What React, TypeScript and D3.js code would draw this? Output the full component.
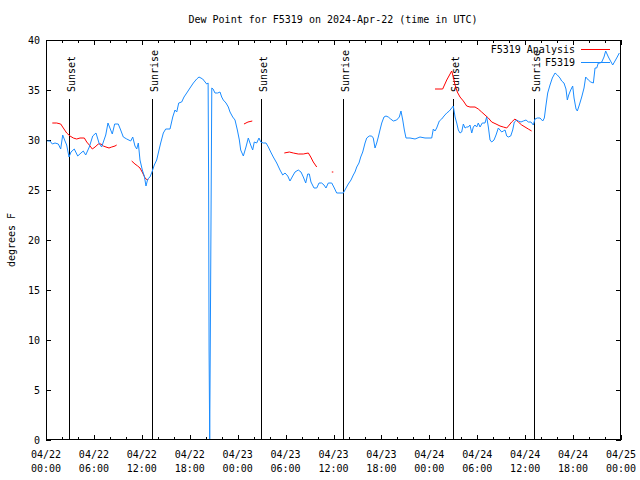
import React from "react";
import * as d3 from "d3";

const W = 640;
const H = 480;

const titleText = "Dew Point for F5319 on 2024-Apr-22 (time in UTC)";
const yLabel = "degrees F";

const xTickDates = ["04/22", "04/22", "04/22", "04/22", "04/23", "04/23", "04/23", "04/23", "04/24", "04/24", "04/24", "04/24", "04/25"];
const xTickTimes = ["00:00", "06:00", "12:00", "18:00", "00:00", "06:00", "12:00", "18:00", "00:00", "06:00", "12:00", "18:00", "00:00"];
const yTicks = [0, 5, 10, 15, 20, 25, 30, 35, 40];

const sunLabels = ["Sunset", "Sunrise", "Sunset", "Sunrise", "Sunset", "Sunrise"];
const sunHours = [2.92, 13.22, 26.95, 37.25, 50.98, 61.1];

// F5319 observations: hours since 04/22 00:00 UTC, dew point (F)
const obsHours = [
  0.16, 0.5, 0.79, 1.13, 1.54, 1.84, 2.09, 2.38, 2.59, 2.88, 3.13, 3.54, 3.97, 4.38, 4.67, 4.97, 5.42, 5.85,
  6.26, 6.64, 6.97, 7.18, 7.48, 7.76, 8.1, 8.3, 8.6, 9.05, 9.35, 9.68, 10.11, 10.61, 10.86, 11.14, 11.36, 11.56,
  11.77, 12.06, 12.31, 12.52, 12.74, 13.02, 13.27, 13.56, 13.86, 14.15, 14.36, 14.69, 14.99, 15.53, 15.87, 16.15,
  16.37, 16.62, 16.99, 17.28, 17.62, 18.03, 18.45, 18.87, 19.16, 19.62, 20.12, 20.3, 20.36, 20.42, 20.5, 20.76,
  20.92, 21.16, 21.5, 21.79, 22.0, 22.2, 22.54, 22.83, 23.04, 23.38, 23.67, 23.96, 24.21, 24.38, 24.71, 25.04,
  25.33, 25.63, 25.88, 26.08, 26.38, 26.67, 26.89, 27.21, 27.55, 27.84, 28.14, 28.46, 28.89, 29.3, 29.64, 29.93,
  30.27, 30.55, 30.89, 31.18, 31.59, 31.93, 32.22, 32.52, 32.77, 32.97, 33.18, 33.56, 33.9, 34.19, 34.52, 34.81,
  35.06, 35.35, 35.78, 36.1, 36.4, 36.82, 37.23, 37.57, 37.85, 38.19, 38.48, 38.69, 38.91, 39.19, 39.41, 39.66,
  39.95, 40.16, 40.48, 40.78, 40.98, 41.2, 41.41, 41.61, 41.82, 42.04, 42.32, 42.57, 42.86, 43.16, 43.49, 43.91,
  44.24, 44.45, 44.67, 44.87, 45.08, 45.58, 46.21, 46.83, 47.46, 48.3, 48.5, 48.71, 48.92, 49.25, 49.55, 49.84,
  50.18, 50.5, 50.8, 51.0, 51.22, 51.43, 51.63, 51.84, 52.05, 52.26, 52.47, 52.68, 52.88, 53.09, 53.31, 53.51,
  53.72, 53.93, 54.13, 54.35, 54.63, 54.97, 55.18, 55.39, 55.6, 55.81, 56.1, 56.35, 56.64, 56.85, 57.06, 57.26,
  57.48, 57.69, 57.89, 58.19, 58.44, 58.64, 58.94, 59.14, 59.48, 59.77, 60.11, 60.39, 60.73, 61.02, 61.23, 61.52,
  61.86, 62.2, 62.4, 62.61, 62.82, 63.11, 63.4, 63.74, 64.03, 64.36, 64.57, 64.86, 65.11, 65.28, 65.45, 65.7,
  65.95, 66.12, 66.37, 66.53, 66.78, 67.08, 67.37, 67.58, 67.91, 68.21, 68.54, 68.75, 68.96, 69.16, 69.37, 69.59,
  69.87, 70.08, 70.42, 70.96, 71.46, 71.79,
];
const obsValues = [
  29.9, 29.9, 29.6, 29.7, 29.6, 29.1, 30.5, 29.9, 29.5, 28.3, 28.8, 29.1, 28.4, 28.7, 28.9, 28.5, 29.3, 30.4,
  30.7, 29.7, 29.3, 29.8, 30.5, 31.7, 31.0, 30.6, 31.6, 31.6, 31.0, 30.3, 30.1, 29.9, 30.3, 29.4, 29.1, 29.7,
  28.0, 27.0, 26.4, 25.4, 26.1, 26.3, 26.8, 27.5, 28.0, 29.0, 29.7, 30.7, 31.1, 31.1, 32.3, 33.0,
  32.8, 33.7, 33.8, 34.3, 34.7, 35.2, 35.7, 36.1, 36.3, 36.1, 35.6, 35.7, 26.0, 9.0, 0.0, 35.2,
  35.1, 34.7, 34.7, 34.8, 34.3, 34.0, 33.7, 33.3, 32.8, 32.3, 32.0, 31.0, 30.0, 29.0, 28.4, 29.3,
  30.2, 29.5, 29.0, 29.8, 29.7, 30.2, 29.8, 29.7, 29.7, 29.3, 28.8, 28.3, 27.7, 27.0, 26.5, 26.7,
  26.4, 25.9, 26.4, 26.8, 27.0, 26.8, 26.3, 25.7, 26.6, 26.6, 25.8, 25.2, 25.2, 25.7, 25.7, 25.5,
  25.2, 25.7, 25.7, 25.2, 24.7, 24.7, 24.7, 25.2, 25.6, 26.0, 26.5, 26.8, 27.3, 27.7, 28.3, 28.8,
  29.7, 30.2, 30.4, 30.4, 30.2, 29.2, 29.7, 30.3, 31.0, 31.7, 32.3, 32.4, 32.3, 32.1, 31.9, 32.0,
  32.3, 32.9, 32.0, 31.0, 30.2, 30.2, 30.1, 30.3, 30.2, 30.2, 31.1, 30.9, 31.2, 31.9, 32.1, 32.4,
  32.7, 32.9, 33.2, 33.4, 32.3, 31.7, 31.0, 30.7, 30.8, 31.6, 31.2, 31.3, 31.3, 31.5, 30.7, 31.3,
  31.5, 31.3, 31.7, 31.3, 31.7, 31.7, 32.3, 31.3, 30.0, 29.8, 30.0, 30.5, 31.2, 31.0, 30.8, 30.9,
  31.0, 30.4, 30.3, 30.4, 31.0, 31.8, 32.0, 31.9, 31.8, 31.9, 32.0, 31.8, 31.8, 31.5, 32.1, 32.2,
  32.2, 31.9, 32.2, 33.5, 34.7, 35.5, 36.2, 36.7, 36.5, 36.2, 35.9, 35.7, 35.1, 34.0, 34.5, 35.0,
  35.4, 34.2, 33.1, 32.9, 33.5, 34.3, 35.2, 36.3, 36.0, 35.8, 35.7, 37.2, 37.2, 37.7, 37.7, 37.8,
  38.3, 38.9, 38.3, 37.5, 38.2, 38.7,
];

// F5319 Analysis: null marks a gap
const anaHours = [
  0.79, 1.34, 1.84, 2.17, 2.59, 3.01, 3.42, 3.84, 4.26, 4.8, 5.1, 5.42, 5.8, 6.14, 6.55, 6.89, 7.18, 7.51, 7.89,
  8.23, 8.64, 8.85, 9.5,
  10.73, 11.14, 11.48, 11.77, 12.11, 12.4, 12.69, 12.81, 13.5,
  24.79, 25.29, 25.83, 26.5,
  29.84, 30.47, 30.97, 31.59, 32.22, 32.85, 33.15, 33.47, 33.9, 34.5,
  35.85, 36.5,
  48.71, 49.67, 50.18, 50.8, 51.0, 51.22, 51.5, 51.84, 52.26, 52.68, 53.09, 53.72, 54.13, 54.55, 54.97, 55.39,
  55.81, 56.35, 56.85, 57.26, 57.69, 58.01, 58.31, 58.72, 59.14, 59.57, 59.98, 60.39, 60.81,
];
const anaValues: (number | null)[] = [
  31.7, 31.7, 31.6, 31.2, 30.7, 30.4, 30.2, 30.1, 30.2, 30.2, 29.8, 29.5, 29.1, 29.3, 29.6, 29.6, 29.4, 29.3, 29.2,
  29.3, 29.4, 29.5, null,
  27.9, 27.6, 27.4, 27.2, 26.7, 26.2, 26.0, 26.1, null,
  31.6, 31.8, 31.9, null,
  28.7, 28.8, 28.7, 28.6, 28.6, 28.7, 28.3, 27.8, 27.3, null,
  26.8, null,
  35.1, 35.1, 36.0, 36.9, 36.3, 35.5, 34.8, 34.3, 33.9, 33.4, 33.3, 33.3, 33.1, 32.8, 32.5, 32.2,
  31.8, 31.6, 31.4, 31.3, 31.2, 31.5, 31.8, 32.1, 31.8, 31.5, 31.3, 31.1, 30.9,
];

const legendNames = ["F5319 Analysis", "F5319"];
const colorAna = "#ff0000";
const colorObs = "#1a8cff";

const FONT = "'DejaVu Sans Mono', monospace";

export default function App() {
  const left = 46, right = 621, top = 40, bottom = 440;
  const x = d3.scaleLinear().domain([0, 72]).range([left, right]);
  const y = d3.scaleLinear().domain([0, 40]).range([bottom, top]);

  const obs = obsHours.map((h, i) => ({ h, v: obsValues[i] as number | null }));
  const ana = anaHours.map((h, i) => ({ h, v: anaValues[i] }));

  const line = d3
    .line<{ h: number; v: number | null }>()
    .defined((d) => d.v !== null)
    .x((d) => x(d.h))
    .y((d) => y(d.v as number));

  const isolated = ana.filter(
    (d, i) =>
      d.v !== null &&
      (i === 0 || ana[i - 1].v === null) &&
      (i === ana.length - 1 || ana[i + 1].v === null)
  );

  const majorX = d3.range(0, 73, 6);
  const minorX = d3.range(0, 73, 2).filter((h) => h % 6 !== 0);

  return (
    <svg width={W} height={H} style={{ display: "block", position: "absolute", left: 0, top: 0 }} fontFamily={FONT}>
      <rect x={0} y={0} width={W} height={H} fill="#ffffff" />
      <text x={333} y={23} fontSize={10} textAnchor="middle" fill="#000">{titleText}</text>

      {/* ticks */}
      <g stroke="#000" strokeWidth={1} shapeRendering="crispEdges">
        {yTicks.map((t) => (
          <g key={"y" + t}>
            <line x1={left} x2={left + 5} y1={Math.round(y(t)) + 0.5} y2={Math.round(y(t)) + 0.5} />
            <line x1={right - 5} x2={right} y1={Math.round(y(t)) + 0.5} y2={Math.round(y(t)) + 0.5} />
          </g>
        ))}
        {majorX.map((h) => (
          <g key={"mx" + h}>
            <line x1={Math.round(x(h)) + 0.5} x2={Math.round(x(h)) + 0.5} y1={bottom} y2={bottom - 5} />
            <line x1={Math.round(x(h)) + 0.5} x2={Math.round(x(h)) + 0.5} y1={top} y2={top + 5} />
          </g>
        ))}
        {minorX.map((h) => (
          <g key={"nx" + h}>
            <line x1={Math.round(x(h)) + 0.5} x2={Math.round(x(h)) + 0.5} y1={bottom} y2={bottom - 3} />
            <line x1={Math.round(x(h)) + 0.5} x2={Math.round(x(h)) + 0.5} y1={top} y2={top + 3} />
          </g>
        ))}
      </g>

      {/* y tick labels */}
      {yTicks.map((t) => (
        <text key={"yl" + t} x={40} y={y(t) + 3.5} fontSize={10} textAnchor="end" fill="#000">{t}</text>
      ))}
      {/* x tick labels */}
      {majorX.map((h, i) => (
        <g key={"xl" + h}>
          <text x={x(h)} y={458} fontSize={10} textAnchor="middle" fill="#000">{xTickDates[i]}</text>
          <text x={x(h)} y={472} fontSize={10} textAnchor="middle" fill="#000">{xTickTimes[i]}</text>
        </g>
      ))}

      <text transform={`translate(15,240) rotate(-90)`} fontSize={10} textAnchor="middle" fill="#000">{yLabel}</text>

      {/* sunrise / sunset */}
      {sunHours.map((h, i) => {
        const sx = Math.round(x(h)) + 0.5;
        return (
          <g key={"sun" + i}>
            <line x1={sx} x2={sx} y1={99} y2={bottom} stroke="#000" strokeWidth={1} shapeRendering="crispEdges" />
            <text transform={`translate(${sx + 5},92) rotate(-90)`} fontSize={10} textAnchor="start" fill="#000">
              {sunLabels[i]}
            </text>
          </g>
        );
      })}

      {/* data */}
      <path d={line(ana) || ""} fill="none" stroke={colorAna} strokeWidth={1} />
      {isolated.map((d, i) => (
        <rect key={"iso" + i} x={x(d.h) - 0.5} y={y(d.v as number) - 0.5} width={1.5} height={1} fill={colorAna} />
      ))}
      <path d={line(obs) || ""} fill="none" stroke={colorObs} strokeWidth={1} />

      {/* legend */}
      <text x={575} y={53} fontSize={10} textAnchor="end" fill="#000">{legendNames[0]}</text>
      <line x1={581} x2={610} y1={49.5} y2={49.5} stroke={colorAna} strokeWidth={1} shapeRendering="crispEdges" />
      <text x={575} y={66} fontSize={10} textAnchor="end" fill="#000">{legendNames[1]}</text>
      <line x1={581} x2={610} y1={62.5} y2={62.5} stroke={colorObs} strokeWidth={1} shapeRendering="crispEdges" />

      {/* border */}
      <rect x={left + 0.5} y={top + 0.5} width={right - left - 1} height={bottom - top - 1} fill="none" stroke="#000" strokeWidth={1} shapeRendering="crispEdges" />
    </svg>
  );
}
